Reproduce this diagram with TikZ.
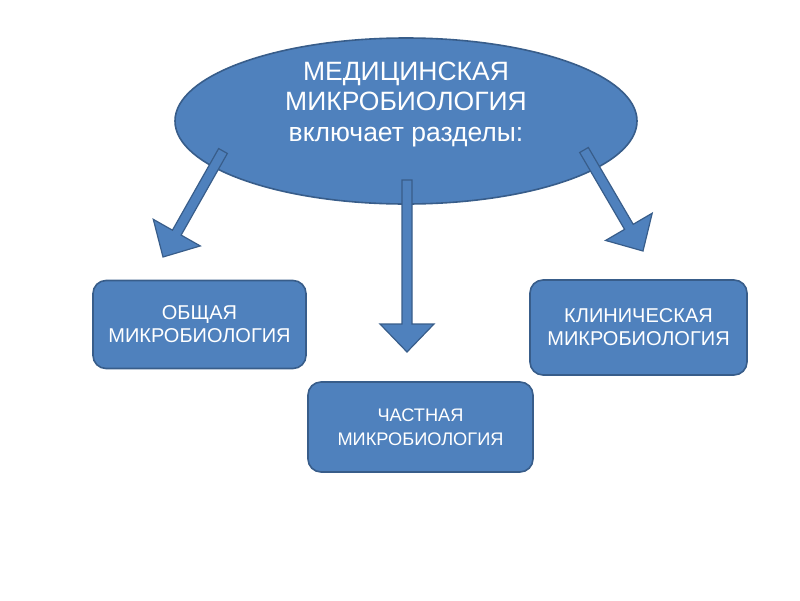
\documentclass[tikz,border=0pt]{standalone}
\usepackage{fontspec}
\setmainfont{Liberation Sans}
\usetikzlibrary{shapes.geometric,calc}
\definecolor{fillblue}{HTML}{4F81BD}
\definecolor{lineblue}{HTML}{385D8A}
\tikzset{
  shapesty/.style={fill=fillblue, draw=lineblue, line width=1.6pt},
  boxsty/.style={shapesty, rectangle, rounded corners=13pt, inner sep=0pt, text=white, align=center},
  arrowsty/.style={fill=fillblue, draw=lineblue, line width=1.2pt, line join=miter},
}
\newcommand\fatarrow[2]{%
  \path ($(#2)!28pt!(#1)$) coordinate (hb);
  \draw[arrowsty] ($(#1)!5pt!90:(#2)$) -- ($(hb)!5pt!-90:(#1)$) -- ($(hb)!27pt!-90:(#1)$) -- (#2)
     -- ($(hb)!27pt!90:(#1)$) -- ($(hb)!5pt!90:(#1)$) -- ($(#1)!5pt!-90:(#2)$) -- cycle;
}
\begin{document}
\begin{tikzpicture}[x=1pt,y=-1pt]
\useasboundingbox (0,0) rectangle (800,600);
\node[shapesty, ellipse, minimum width=462pt, minimum height=166pt, inner sep=0pt] (main) at (406,121) {};
\node[text=white, align=center, font=\fontsize{26.5}{30.5}\selectfont] (maintext) at (406,104)
  {МЕДИЦИНСКАЯ\\МИКРОБИОЛОГИЯ\\включает разделы:};
\node[boxsty, minimum width=213pt, minimum height=88pt, font=\fontsize{20}{23}\selectfont] (general) at (199.5,324.5) {ОБЩАЯ\\МИКРОБИОЛОГИЯ};
\node[boxsty, minimum width=225pt, minimum height=90pt, font=\fontsize{18.2}{24}\selectfont] (special) at (420.5,427) {ЧАСТНАЯ\\МИКРОБИОЛОГИЯ};
\node[boxsty, minimum width=217pt, minimum height=95pt, font=\fontsize{20}{23}\selectfont] (clinical) at (638.5,327.5) {КЛИНИЧЕСКАЯ\\МИКРОБИОЛОГИЯ};
\coordinate (s1) at (223,151);
\coordinate (t1) at (163,257);
\coordinate (s2) at (407,180);
\coordinate (t2) at (407,352);
\coordinate (s3) at (584,150);
\coordinate (t3) at (643,251);
\fatarrow{s1}{t1}
\fatarrow{s2}{t2}
\fatarrow{s3}{t3}
\end{tikzpicture}
\end{document}
